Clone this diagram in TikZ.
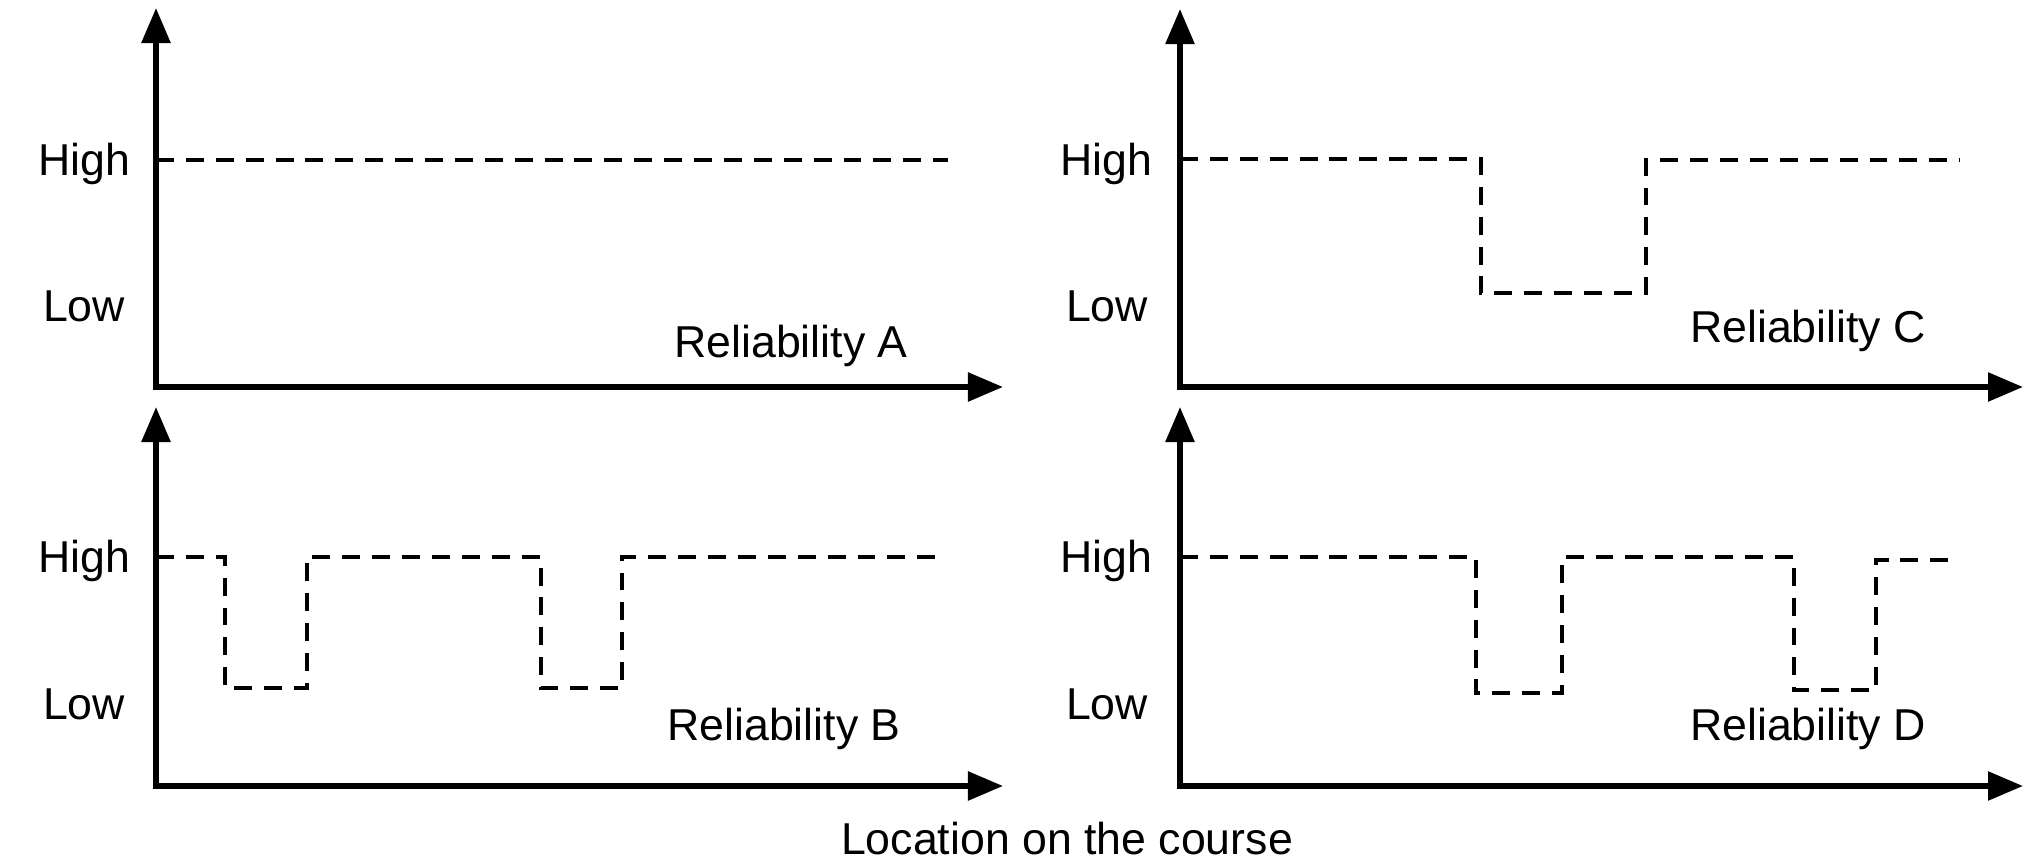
\documentclass[tikz,border=0pt]{standalone}
\usepackage{fontspec}
\setmainfont{Liberation Sans}
\usetikzlibrary{arrows.meta}
\begin{document}
\begin{tikzpicture}[x=0.01cm,y=-0.01cm,
  axis/.style={line width=1.6pt,line join=miter,
    {Triangle[length=0.35cm,width=0.28cm]}-{Triangle[length=0.35cm,width=0.28cm]}},
  level/.style={line width=1.4pt,dash pattern=on 5.1pt off 3.4pt},
  lbl/.style={font=\fontsize{12.7}{15}\selectfont,anchor=base,inner sep=0pt}]
\useasboundingbox (0,0) rectangle (2025,868);

% ---------- Panel A ----------
\coordinate (oA) at (156,387);
\coordinate (yA) at (156,8);
\coordinate (xA) at (1003,387);
\draw[axis] (yA) -- (oA) -- (xA);
\node[lbl] (hA) at (84,176) {High};
\node[lbl] (lA) at (84,322) {Low};
\node[lbl] (rA) at (791,358) {Reliability A};
\draw[level] (156,160) -- (948,160);

% ---------- Panel C ----------
\coordinate (oC) at (1180,387);
\coordinate (yC) at (1180,9);
\coordinate (xC) at (2023,387);
\draw[axis] (yC) -- (oC) -- (xC);
\node[lbl] (hC) at (1106,176) {High};
\node[lbl] (lC) at (1107,322) {Low};
\node[lbl] (rC) at (1808,343) {Reliability C};
\draw[level] (1180,159) -- (1481,159) -- (1481,293) -- (1646,293)
  -- (1646,160) -- (1960,160);

% ---------- Panel B ----------
\coordinate (oB) at (156,786);
\coordinate (yB) at (156,407);
\coordinate (xB) at (1003,786);
\draw[axis] (yB) -- (oB) -- (xB);
\node[lbl] (hB) at (84,573) {High};
\node[lbl] (lB) at (84,720) {Low};
\node[lbl] (rB) at (784,741) {Reliability B};
\draw[level] (156,557) -- (225,557) -- (225,688) -- (307,688) -- (307,557)
  -- (541,557) -- (541,688) -- (622,688) -- (622,557) -- (938,557);

% ---------- Panel D ----------
\coordinate (oD) at (1180,786);
\coordinate (yD) at (1180,407);
\coordinate (xD) at (2023,786);
\draw[axis] (yD) -- (oD) -- (xD);
\node[lbl] (hD) at (1106,573) {High};
\node[lbl] (lD) at (1107,720) {Low};
\node[lbl] (rD) at (1808,741) {Reliability D};
\draw[level] (1180,557) -- (1476,557) -- (1476,693) -- (1562,693) -- (1562,557)
  -- (1794,557) -- (1794,690) -- (1876,690) -- (1876,560) -- (1955,560);

% ---------- common label ----------
\node[lbl] (loc) at (1067,855) {Location on the course};
\end{tikzpicture}
\end{document}
